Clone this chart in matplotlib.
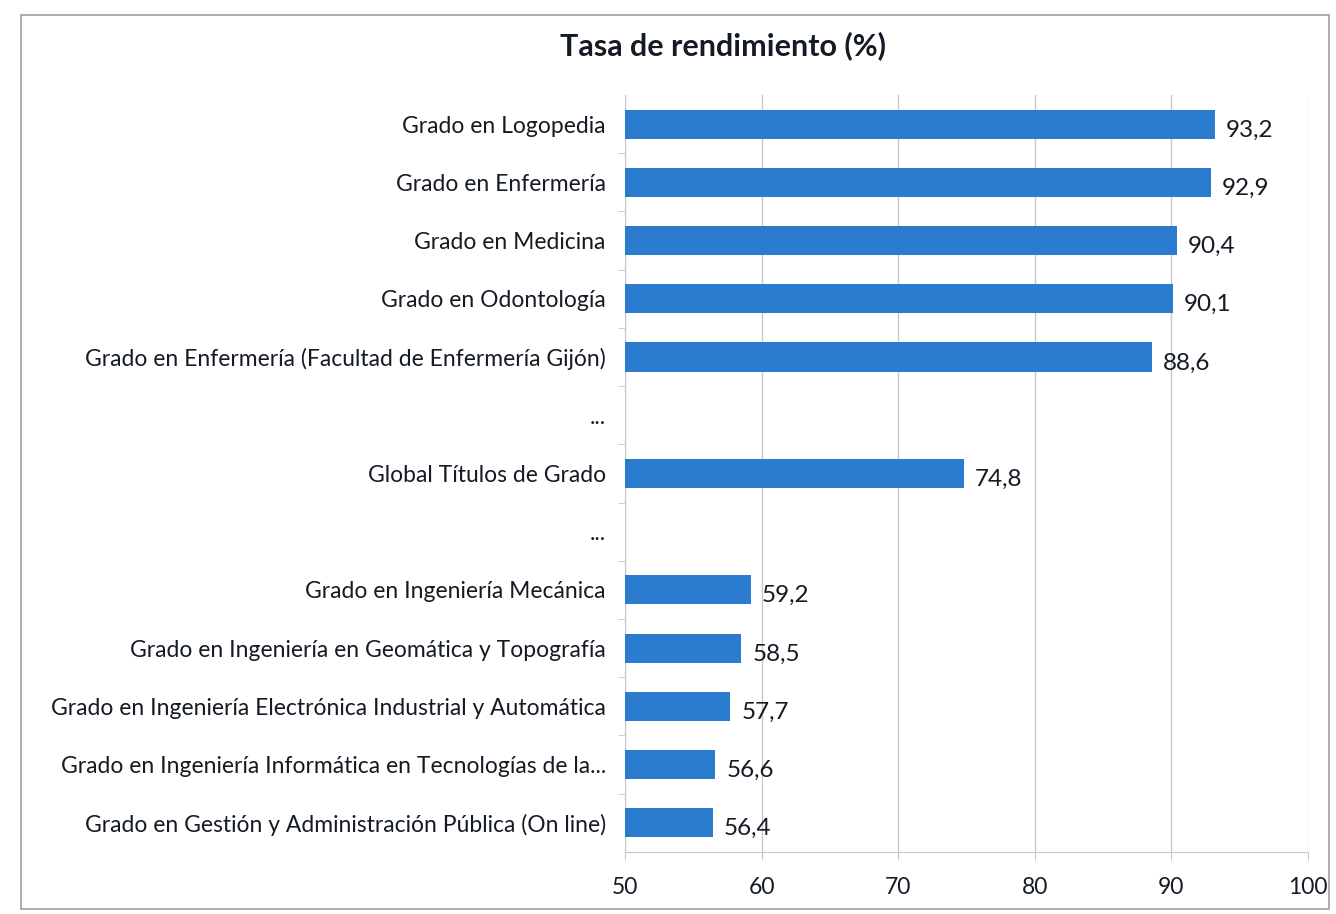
import matplotlib.pyplot as plt
from matplotlib.patches import Rectangle

plt.rcParams['font.family'] = ['Lato', 'DejaVu Sans']

categories = [
    'Grado en Logopedia',
    'Grado en Enfermería',
    'Grado en Medicina',
    'Grado en Odontología',
    'Grado en Enfermería (Facultad de Enfermería Gijón)',
    '...',
    'Global Títulos de Grado',
    '...',
    'Grado en Ingeniería Mecánica',
    'Grado en Ingeniería en Geomática y Topografía',
    'Grado en Ingeniería Electrónica Industrial y Automática',
    'Grado en Ingeniería Informática en Tecnologías de la...',
    'Grado en Gestión y Administración Pública (On line)',
]
values = [93.2, 92.9, 90.4, 90.1, 88.6, None, 74.8, None, 59.2, 58.5, 57.7, 56.6, 56.4]
x_ticks = [50, 60, 70, 80, 90, 100]

bar_color = '#2b7bcf'
grid_color = '#c8c8c8'
text_color = '#151b24'

fig = plt.figure(figsize=(13.36, 9.14), dpi=100)
ax = fig.add_axes([0.468, 0.068, 0.511, 0.828])

ypos = list(range(len(categories)))
for y, v in zip(ypos, values):
    if v is None:
        continue
    ax.barh(y, v - 50, left=50, height=0.5, color=bar_color, zorder=3)
    ax.text(v + 0.8, y + 0.1, f'{v:.1f}'.replace('.', ','), va='center', ha='left',
            fontsize=17.5, color=text_color, zorder=4)

ax.set_xlim(50, 100)
ax.set_ylim(len(categories) - 0.5, -0.5)
ax.set_xticks(x_ticks)
ax.set_xticklabels([str(t) for t in x_ticks], fontsize=16.5, color=text_color)
ax.set_yticks(ypos)
ax.set_yticklabels(categories, fontsize=16.5, color=text_color)
ax.tick_params(axis='y', length=0, pad=14)
ax.tick_params(axis='x', length=6, color=grid_color, pad=12)
ax.set_yticks([y + 0.5 for y in ypos[:-1]], minor=True)
ax.tick_params(axis='y', which='minor', length=5, color=grid_color)

ax.grid(axis='x', color=grid_color, linewidth=1.0, zorder=0)
for side in ['top', 'right']:
    ax.spines[side].set_visible(False)
ax.spines['left'].set_color(grid_color)
ax.spines['bottom'].set_color(grid_color)

fig.text(0.541, 0.95, 'Tasa de rendimiento (%)', ha='center', va='center',
         fontsize=22, fontweight='bold', color=text_color)

fig.patches.append(Rectangle((0.016, 0.006), 0.979, 0.978, transform=fig.transFigure,
                             fill=False, edgecolor='#a0a0a0', linewidth=1.2))

fig.savefig('out.png', dpi=100)
